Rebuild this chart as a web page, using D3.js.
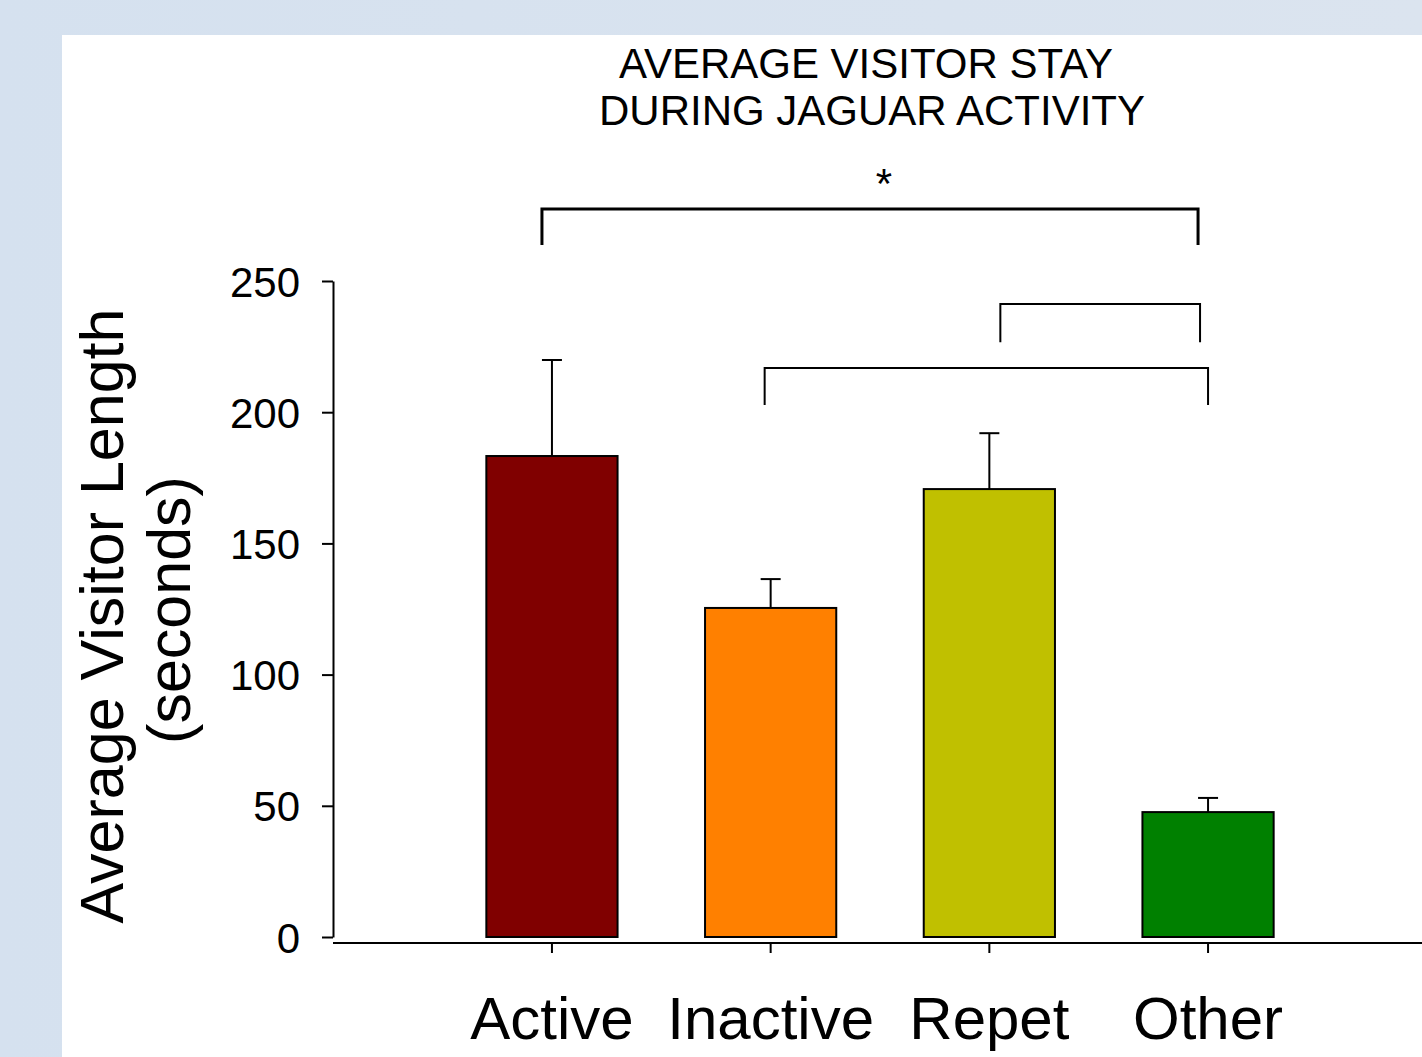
<!DOCTYPE html>
<html>
<head>
<meta charset="utf-8">
<script src="https://cdn.jsdelivr.net/npm/d3@7"></script>
<style>
  html, body { margin: 0; padding: 0; background: #d8e3ef; }
  svg { display: block; font-family: "Liberation Sans", Arial, sans-serif; }
</style>
</head>
<body>
<div id="chart"></div>
<script>
// Datos del gráfico
const categories = ['Active', 'Inactive', 'Repet', 'Other'];
const means = [183.3, 125.4, 170.7, 47.6];
const errors = [36.6, 11.0, 21.3, 5.4];
const colors = ['#800000', '#ff8000', '#c0c000', '#008000'];
const yTicks = [0, 50, 100, 150, 200, 250];
const titleLines = ['AVERAGE VISITOR STAY', 'DURING JAGUAR ACTIVITY'];
const yLabelLines = ['Average Visitor Length', '(seconds)'];

// Corchetes de significancia (nivel y caída en unidades del eje)
const brackets = [
  { from: 'Active', to: 'Other', level: 277.4, drop: 263.7, dx0: -10, dx1: -10, thick: true },
  { from: 'Repet', to: 'Other', level: 241.2, drop: 226.7, dx0: 11, dx1: -8 },
  { from: 'Inactive', to: 'Other', level: 216.8, drop: 202.7, dx0: -6, dx1: 0 }
];

const width = 1422, height = 1057;

const svg = d3.select('#chart').append('svg')
  .attr('width', width)
  .attr('height', height);

// Fondo
const grad = svg.append('defs').append('linearGradient')
  .attr('id', 'bg').attr('x1', 0).attr('x2', 1).attr('y1', 0).attr('y2', 0);
grad.append('stop').attr('offset', 0).attr('stop-color', '#d5e1ef');
grad.append('stop').attr('offset', 1).attr('stop-color', '#dbe4ef');
svg.append('rect').attr('width', width).attr('height', height).attr('fill', 'url(#bg)');
svg.append('rect').attr('x', 62).attr('y', 35).attr('width', width - 62).attr('height', height - 35).attr('fill', '#fff');

// Escalas
const x = d3.scaleBand()
  .domain(categories)
  .range([442.6, 1317.4])
  .paddingInner(0.4)
  .paddingOuter(0.2);

const y = d3.scaleLinear()
  .domain([0, 250])
  .range([937, 281]);

const cx = c => x(c) + x.bandwidth() / 2;

// Eje Y
const yAxis = svg.append('g')
  .attr('transform', 'translate(333,0)')
  .call(d3.axisLeft(y).tickValues(yTicks).tickSize(11).tickPadding(22).tickSizeOuter(0));
yAxis.select('.domain').attr('stroke', '#000').attr('stroke-width', 2);
yAxis.selectAll('.tick line').attr('stroke', '#000').attr('stroke-width', 2);
yAxis.selectAll('.tick text')
  .attr('font-size', 42)
  .attr('fill', '#000')
  .attr('font-family', '"Liberation Sans", Arial, sans-serif')
  .attr('dy', '0.36em');

// Eje X
const xAxisY = 943;
svg.append('line')
  .attr('x1', 333).attr('x2', width)
  .attr('y1', xAxisY).attr('y2', xAxisY)
  .attr('stroke', '#000').attr('stroke-width', 2);
const xAxis = svg.append('g')
  .attr('transform', `translate(0,${xAxisY})`)
  .call(d3.axisBottom(x).tickSize(10).tickPadding(43));
xAxis.select('.domain').remove();
xAxis.selectAll('.tick line').attr('stroke', '#000').attr('stroke-width', 2);
xAxis.selectAll('.tick text')
  .attr('font-size', 60)
  .attr('fill', '#000')
  .attr('font-family', '"Liberation Sans", Arial, sans-serif');

// Barras
const rows = categories.map((c, i) => ({ cat: c, mean: means[i], err: errors[i], color: colors[i] }));

svg.append('g').selectAll('rect')
  .data(rows)
  .join('rect')
  .attr('x', d => x(d.cat))
  .attr('y', d => y(d.mean))
  .attr('width', x.bandwidth())
  .attr('height', d => y(0) - y(d.mean))
  .attr('fill', d => d.color)
  .attr('stroke', '#000')
  .attr('stroke-width', 2);

// Barras de error
const eb = svg.append('g').attr('stroke', '#000').attr('stroke-width', 2);
eb.selectAll('line.v')
  .data(rows)
  .join('line')
  .attr('class', 'v')
  .attr('x1', d => cx(d.cat)).attr('x2', d => cx(d.cat))
  .attr('y1', d => y(d.mean)).attr('y2', d => y(d.mean + d.err));
eb.selectAll('line.cap')
  .data(rows)
  .join('line')
  .attr('class', 'cap')
  .attr('x1', d => cx(d.cat) - 10).attr('x2', d => cx(d.cat) + 10)
  .attr('y1', d => y(d.mean + d.err)).attr('y2', d => y(d.mean + d.err));

// Corchetes
svg.append('g').selectAll('path')
  .data(brackets)
  .join('path')
  .attr('fill', 'none')
  .attr('stroke', '#000')
  .attr('stroke-width', d => d.thick ? 3 : 2)
  .attr('d', d => {
    const x0 = cx(d.from) + d.dx0, x1 = cx(d.to) + d.dx1;
    return `M${x0},${y(d.drop)}V${y(d.level)}H${x1}V${y(d.drop)}`;
  });

svg.append('text')
  .attr('x', 884).attr('y', 198)
  .attr('text-anchor', 'middle')
  .attr('font-size', 42)
  .text('*');

// Título
svg.append('g').selectAll('text')
  .data(titleLines)
  .join('text')
  .attr('x', (d, i) => i === 0 ? 866 : 872)
  .attr('y', (d, i) => 78 + i * 47)
  .attr('text-anchor', 'middle')
  .attr('font-size', 42)
  .attr('fill', '#000')
  .text(d => d);

// Etiqueta eje Y
svg.append('g').selectAll('text')
  .data(yLabelLines)
  .join('text')
  .attr('transform', (d, i) => `translate(${i === 0 ? 123 : 190},${i === 0 ? 616 : 610}) rotate(-90)`)
  .attr('text-anchor', 'middle')
  .attr('font-size', 61)
  .attr('fill', '#000')
  .text(d => d);
</script>
</body>
</html>
